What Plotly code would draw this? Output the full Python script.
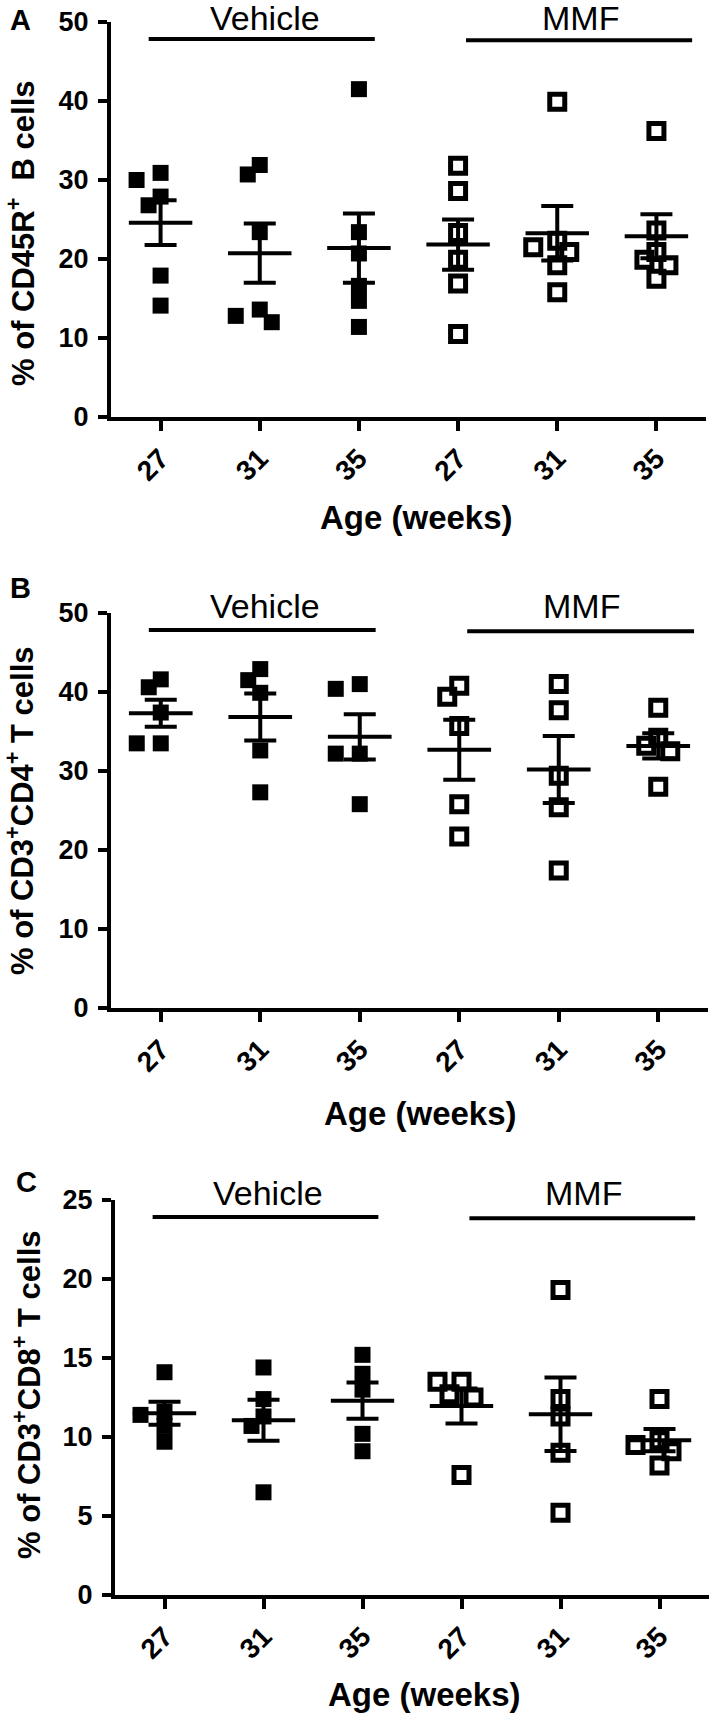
import numpy as np
import plotly.graph_objects as go

W, H = 709, 1713

# ---------------- data ----------------
categories = ["27", "31", "35", "27", "31", "35"]
group_labels = ["Vehicle", "MMF"]
panel_letters = ["A", "B", "C"]
y_titles = [
    "% of CD45R<sup>+</sup>  B cells",
    "% of CD3<sup>+</sup>CD4<sup>+</sup> T cells",
    "% of CD3<sup>+</sup>CD8<sup>+</sup> T cells",
]
x_title = "Age (weeks)"
y_max = [50, 50, 25]
y_dtick = [10, 10, 5]

# Panel A: % of CD45R+ B cells
a_veh_27 = [30.9, 30.0, 27.9, 26.8, 17.9, 14.1]
a_veh_31 = [30.7, 31.9, 23.4, 13.6, 12.0, 12.8]
a_veh_35 = [41.5, 23.4, 20.7, 16.6, 14.7, 11.4]
a_mmf_27 = [31.8, 28.6, 23.3, 19.9, 16.9, 10.5]
a_mmf_31 = [39.9, 22.3, 21.5, 20.9, 19.2, 15.8]
a_mmf_35 = [36.2, 23.6, 20.9, 19.9, 19.2, 17.5]

# Panel B: % of CD3+CD4+ T cells
b_veh_27 = [40.6, 41.6, 37.4, 33.5, 33.5]
b_veh_31 = [42.9, 41.5, 39.9, 32.6, 27.3]
b_veh_35 = [40.4, 41.0, 32.2, 32.2, 25.8]
b_mmf_27 = [40.8, 39.4, 35.7, 25.8, 21.7]
b_mmf_31 = [41.0, 37.7, 29.4, 25.4, 17.4]
b_mmf_35 = [38.0, 34.2, 33.2, 32.5, 28.0]

# Panel C: % of CD3+CD8+ T cells
c_veh_27 = [14.1, 11.6, 11.4, 10.7, 9.7]
c_veh_31 = [14.4, 12.4, 11.3, 10.7, 6.5]
c_veh_35 = [15.2, 14.0, 13.0, 10.2, 9.1]
c_mmf_27 = [13.5, 13.5, 12.7, 12.5, 7.6]
c_mmf_31 = [19.3, 12.4, 11.3, 9.0, 5.2]
c_mmf_35 = [12.4, 9.8, 9.5, 9.1, 8.2]

panels = [
    [a_veh_27, a_veh_31, a_veh_35, a_mmf_27, a_mmf_31, a_mmf_35],
    [b_veh_27, b_veh_31, b_veh_35, b_mmf_27, b_mmf_31, b_mmf_35],
    [c_veh_27, c_veh_31, c_veh_35, c_mmf_27, c_mmf_31, c_mmf_35],
]
is_mmf = [False, False, False, True, True, True]

# ---------------- layout geometry (pixels) ----------------
x_dom_px = [(111, 706), (111, 708), (115, 709)]
y_dom_px = [(22, 417), (613, 1008), (1200, 1595)]

FONT = "Liberation Sans, Arial, sans-serif"


def swarm_offsets(values, ppu_y, ppu_x, step=12.0, dist=14.0):
    """Simple beeswarm: spread colliding points horizontally."""
    n = len(values)
    order = sorted(range(n), key=lambda i: -values[i])
    placed = []
    offs = [0.0] * n
    cands = [0]
    for k in range(1, 8):
        cands += [-k, k]
    for i in order:
        y = values[i] * ppu_y
        dx = 0.0
        for c in cands:
            dx = c * step
            if all((dx - px) ** 2 + (y - py) ** 2 >= dist ** 2 for px, py in placed):
                break
        placed.append((dx, y))
        offs[i] = dx / ppu_x
    return offs


fig = go.Figure()
annotations = []
shapes = []

for p in range(3):
    xa = "x" if p == 0 else f"x{p+1}"
    ya = "y" if p == 0 else f"y{p+1}"
    x0, x1 = x_dom_px[p]
    y0, y1 = y_dom_px[p]
    ppu_x = (x1 - x0) / 6.0
    ppu_y = (y1 - y0) / y_max[p]

    # scatter points
    for mmf in (False, True):
        xs, ys = [], []
        for j, vals in enumerate(panels[p]):
            if is_mmf[j] != mmf:
                continue
            offs = swarm_offsets(vals, ppu_y, ppu_x)
            xs += [j + o for o in offs]
            ys += list(vals)
        if mmf:
            marker = dict(symbol="square-open", size=15, color="black",
                          line=dict(width=5, color="black"))
        else:
            marker = dict(symbol="square", size=16, color="black",
                          line=dict(width=0))
        fig.add_trace(go.Scatter(x=xs, y=ys, mode="markers", marker=marker,
                                 xaxis=xa, yaxis=ya, showlegend=False,
                                 name=group_labels[1] if mmf else group_labels[0],
                                 hoverinfo="skip"))

    means = [float(np.mean(v)) for v in panels[p]]
    sems = [float(np.std(v, ddof=1) / np.sqrt(len(v))) for v in panels[p]]

    # mean lines
    mx, my = [], []
    for j, m in enumerate(means):
        mx += [j - 0.32, j + 0.32, None]
        my += [m, m, None]
    fig.add_trace(go.Scatter(x=mx, y=my, mode="lines",
                             line=dict(color="black", width=4),
                             xaxis=xa, yaxis=ya, showlegend=False,
                             hoverinfo="skip"))
    # SEM error bars
    fig.add_trace(go.Scatter(x=list(range(6)), y=means, mode="markers",
                             marker=dict(size=1, color="rgba(0,0,0,0)"),
                             error_y=dict(type="data", array=sems, visible=True,
                                          color="black", thickness=4, width=16),
                             xaxis=xa, yaxis=ya, showlegend=False,
                             hoverinfo="skip"))

    axis_common = dict(showline=True, linecolor="black", linewidth=4,
                       ticks="outside", tickcolor="black", tickwidth=4,
                       showgrid=False, zeroline=False, fixedrange=True,
                       automargin=False)
    fig.layout[("xaxis" if p == 0 else f"xaxis{p+1}")] = dict(
        domain=[x0 / W, x1 / W], range=[-0.5, 5.5], anchor=ya,
        tickvals=list(range(6)), ticktext=categories, tickangle=-45,
        ticklen=10,
        tickfont=dict(family=FONT, size=28, color="black", weight="bold"),
        **axis_common)
    fig.layout[("yaxis" if p == 0 else f"yaxis{p+1}")] = dict(
        domain=[1 - y1 / H, 1 - y0 / H], range=[0, y_max[p]], anchor=xa,
        tick0=0, dtick=y_dtick[p], ticklen=9, ticklabelstandoff=4,
        tickfont=dict(family=FONT, size=27, color="black", weight="bold"),
        **axis_common)

    # group bars and labels
    top = y_max[p]
    bar_y = [top * 0.957, top * 0.954]
    spans = [(-0.12, 2.16), (3.08, 5.36)]
    label_x = [1.05, 4.23]
    label_cy = max(y0 - 7, 18)
    for g in range(2):
        shapes.append(dict(type="line", xref=xa, yref=ya,
                           x0=spans[g][0], x1=spans[g][1],
                           y0=bar_y[g], y1=bar_y[g],
                           line=dict(color="black", width=4)))
        annotations.append(dict(text=group_labels[g], xref=xa, yref="paper",
                                x=label_x[g], y=1 - label_cy / H,
                                xanchor="center", yanchor="middle",
                                showarrow=False,
                                font=dict(family=FONT, size=34, color="black")))

    # panel letter
    letter_pos = [(20, 20), (20, 588), (26, 1182)]
    lx, ly = letter_pos[p]
    annotations.append(dict(text=panel_letters[p], xref="paper", yref="paper",
                            x=lx / W, y=1 - ly / H, xanchor="center",
                            yanchor="middle", showarrow=False,
                            font=dict(family=FONT, size=29, color="black",
                                      weight="bold")))
    # y title
    yt_pos = [(21, 233), (20, 811), (27, 1395)]
    tx, ty = yt_pos[p]
    annotations.append(dict(text=y_titles[p], xref="paper", yref="paper",
                            x=tx / W, y=1 - ty / H, textangle=-90,
                            xanchor="center", yanchor="middle", showarrow=False,
                            font=dict(family=FONT, size=31, color="black",
                                      weight="bold")))
    # x title
    xt_pos = [(416, 517), (420, 1113), (425, 1694)]
    ax_, ay_ = xt_pos[p]
    annotations.append(dict(text=x_title, xref="paper", yref="paper",
                            x=ax_ / W, y=1 - ay_ / H, xanchor="center",
                            yanchor="middle", showarrow=False,
                            font=dict(family=FONT, size=33, color="black",
                                      weight="bold")))

fig.update_layout(width=W, height=H, margin=dict(l=0, r=0, t=0, b=0),
                  paper_bgcolor="white", plot_bgcolor="white",
                  showlegend=False, annotations=annotations, shapes=shapes,
                  hovermode=False)

fig.write_html("out.html", config={"displayModeBar": False},
               post_script="document.body.style.margin='0px';"
                           "document.body.style.overflow='hidden';")
